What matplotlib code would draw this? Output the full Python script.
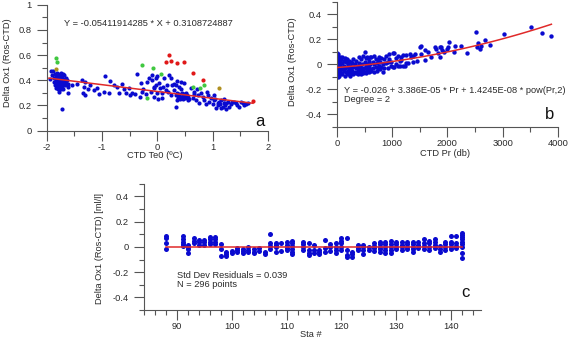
import matplotlib
matplotlib.use("Agg")
import matplotlib.pyplot as plt
import numpy as np
from matplotlib.ticker import MultipleLocator, FormatStrFormatter

plt.rcParams["font.family"] = ["Liberation Sans", "DejaVu Sans"]
plt.rcParams["axes.unicode_minus"] = False

# ---- panel a: residual vs CTD temperature ----
temp_a = [
    -1.94, -1.92, -1.90, -1.88, -1.87, -1.86, -1.85, -1.85, -1.84, -1.84,
    -1.83, -1.83, -1.82, -1.82, -1.82, -1.81, -1.81, -1.81, -1.80, -1.80,
    -1.80, -1.79, -1.79, -1.79, -1.78, -1.78, -1.78, -1.78, -1.77, -1.77,
    -1.77, -1.76, -1.76, -1.76, -1.75, -1.75, -1.75, -1.74, -1.74, -1.74,
    -1.73, -1.73, -1.73, -1.72, -1.72, -1.72, -1.71, -1.71, -1.70, -1.70,
    -1.70, -1.69, -1.69, -1.68, -1.68, -1.67, -1.66, -1.65, -1.64, -1.62,
    -1.61, -1.61, -1.55,
    -1.36, -1.33, -1.30, -1.35, -1.30, -1.21, -1.15, -1.09, -0.97, -0.94,
    -0.85, -0.88, -0.79, -0.73, -0.64, -0.70, -0.56, -0.52, -0.49, -1.45,
    -1.25, -1.05, -0.60, -0.45,
    -0.36, -0.30, -0.32, -0.18, -0.15, -0.09, -0.06, -0.09, -0.03, 0.00,
    0.03, -0.06, 0.12, 0.21, 0.24, 0.18, 0.15, 0.00, -0.06, 0.09,
    0.24, -0.25, -0.20, -0.12, -0.02, 0.05, 0.08, 0.10, 0.20, -0.40,
    -0.28, 0.02, 0.26,
    0.30, 0.36, 0.42, 0.48, 0.39, 0.33, 0.39, 0.45, 0.51, 0.55,
    0.36, 0.33, 0.35, 0.37, 0.38, 0.40, 0.41, 0.43, 0.44, 0.46,
    0.47, 0.49, 0.50, 0.52, 0.53, 0.56, 0.58, 0.42, 0.31, 0.34,
    0.61, 0.67, 0.73, 0.79, 0.70, 0.85, 0.91, 0.94, 1.03, 1.09,
    1.15, 1.18, 1.21, 1.27, 1.33, 1.39, 1.45, 1.52, 1.57, 1.64,
    1.06, 1.24, 0.64, 0.76, 0.82, 0.88, 0.97, 1.00, 1.05, 1.10,
    1.12, 1.14, 1.16, 1.20, 1.23, 1.25, 1.30, 1.35, 1.42, 1.48,
    1.55, 1.60, 0.66, 0.90, 0.72, 1.02,
]
dox_a = [
    0.41, 0.47, 0.44, 0.475, 0.42, 0.39, 0.45, 0.36, 0.43, 0.40,
    0.38, 0.34, 0.46, 0.41, 0.37, 0.44, 0.39, 0.35, 0.42, 0.38,
    0.33, 0.45, 0.40, 0.36, 0.43, 0.39, 0.35, 0.31, 0.41, 0.37,
    0.34, 0.44, 0.40, 0.36, 0.42, 0.38, 0.33, 0.46, 0.39, 0.35,
    0.41, 0.37, 0.17, 0.43, 0.39, 0.34, 0.40, 0.36, 0.45, 0.38,
    0.33, 0.41, 0.37, 0.44, 0.39, 0.36, 0.42, 0.38, 0.40, 0.35,
    0.37, 0.30, 0.36,
    0.40, 0.35, 0.39, 0.30, 0.28, 0.36, 0.32, 0.34, 0.31, 0.43,
    0.395, 0.30, 0.36, 0.35, 0.37, 0.30, 0.30, 0.34, 0.28, 0.37,
    0.33, 0.29, 0.33, 0.30,
    0.45, 0.38, 0.27, 0.39, 0.42, 0.44, 0.34, 0.40, 0.42, 0.43,
    0.38, 0.35, 0.42, 0.44, 0.42, 0.36, 0.32, 0.30, 0.27, 0.26,
    0.28, 0.33, 0.29, 0.31, 0.36, 0.34, 0.30, 0.35, 0.31, 0.29,
    0.31, 0.25, 0.36,
    0.32, 0.395, 0.39, 0.38, 0.35, 0.28, 0.27, 0.26, 0.27, 0.24,
    0.24, 0.19, 0.30, 0.28, 0.26, 0.29, 0.25, 0.27, 0.30, 0.28,
    0.25, 0.29, 0.26, 0.30, 0.28, 0.27, 0.25, 0.33, 0.37, 0.36,
    0.34, 0.31, 0.28, 0.30, 0.24, 0.24, 0.28, 0.23, 0.24, 0.22,
    0.24, 0.19, 0.22, 0.23, 0.21, 0.23, 0.20, 0.23, 0.20, 0.22,
    0.18, 0.17, 0.26, 0.22, 0.27, 0.21, 0.26, 0.21, 0.25, 0.20,
    0.23, 0.21, 0.18, 0.25, 0.20, 0.22, 0.19, 0.23, 0.22, 0.19,
    0.22, 0.21, 0.29, 0.31, 0.33, 0.28,
]
red_temp_a = [0.22, 0.16, 0.24, 0.36, 0.48, 0.64, 0.82, 1.73]
red_dox_a = [0.597, 0.548, 0.555, 0.54, 0.547, 0.46, 0.40, 0.236]
green_temp_a = [-1.84, -1.81, -0.28, -0.08, 0.06, -0.18, 0.85, 0.78, 0.65]
green_dox_a = [0.58, 0.544, 0.525, 0.495, 0.45, 0.26, 0.36, 0.342, 0.347]
olive_temp_a = [-1.83, 1.11]
olive_dox_a = [0.49, 0.335]
fit_a = [-0.05411914285, 0.3108724887]
fit_range_a = [-1.96, 1.73]

# ---- panel b: residual vs CTD pressure ----
pres_b = [
    5, 10, 8, 12, 5, 15, 8, 20, 10, 5, 15, 25, 30, 35, 25, 40, 30, 45,
    50, 55, 60, 20, 40, 50, 3, 18, 28, 6, 60, 35,
    80, 80, 80, 100, 100, 100, 100, 120, 120, 120, 140, 140, 140,
    160, 160, 180, 180, 180, 200, 200, 200, 220, 220, 240, 240, 240,
    260, 260, 260, 280, 280, 300, 300, 300, 320, 320, 350, 350, 350,
    380, 380, 380, 400, 400, 400, 420, 420, 440, 440, 440, 460, 460,
    480, 480, 480, 500, 500, 500, 500, 520, 520, 520, 540, 540, 540,
    560, 560, 580, 580, 580, 600, 600, 600, 620, 620, 650, 650,
    680, 680, 680, 700, 700, 720, 720, 740, 740, 760, 760, 780, 780,
    800, 800, 830, 830, 860, 860, 890, 890, 920, 920, 950, 950,
    980, 980, 1010, 1010, 1040, 1040, 1070, 1070, 1100, 1100,
    1140, 1140, 1165, 1165, 1200, 1200, 1230, 1255, 1255, 1290,
    1320, 1345, 1380, 1380, 1405, 1450, 1495, 1525, 1525, 1586,
    1600, 1646, 1706, 1768, 1797, 1828, 1857, 1860, 1890, 1908,
    1936, 1991, 2009, 2022, 2112, 2130, 2239, 2360, 2510, 2534,
    2552, 2583, 2613, 2673, 2776, 3017, 3518, 3717, 3880,
]
dox_b = [
    0.09, 0.07, 0.05, 0.03, 0.01, -0.01, -0.03, -0.05, -0.07, -0.09,
    -0.10, 0.08, 0.05, 0.02, -0.02, -0.04, -0.06, -0.08, 0.06, 0.0,
    -0.03, 0.04, 0.01, -0.06, 0.0, -0.08, 0.0, -0.05, 0.03, -0.09,
    0.04, -0.02, -0.07, 0.06, 0.01, -0.04, -0.08, 0.03, -0.01, -0.05,
    0.05, -0.03, -0.09, 0.02, -0.06, 0.04, -0.02, -0.07, 0.0, -0.05,
    -0.08, 0.03, -0.03, -0.01, -0.06, -0.09, 0.02, -0.04, -0.07, 0.01,
    -0.05, -0.02, -0.08, 0.04, 0.0, -0.06, 0.03, -0.03, -0.07, -0.01,
    -0.05, -0.08, 0.06, 0.01, -0.04, -0.02, -0.06, 0.04, -0.045, -0.08,
    0.0, -0.03, 0.07, -0.05, -0.07, 0.095, 0.02, -0.03, -0.06, 0.05,
    -0.01, -0.07, 0.06, 0.0, -0.04, 0.05, -0.05, 0.03, -0.02, -0.06,
    0.06, 0.0, -0.04, 0.06, -0.05, 0.02, -0.03, 0.07, 0.0, -0.06,
    0.04, -0.02, 0.01, -0.05, 0.035, -0.03, 0.06, -0.01, 0.02, -0.04,
    0.05, -0.02, 0.0, -0.06, 0.04, -0.03, 0.07, 0.01, -0.03, 0.02,
    0.08, 0.04, 0.02, -0.01, 0.09, -0.02, 0.09, -0.02, 0.05, 0.0,
    0.07, -0.015, 0.03, -0.01, 0.056, 0.034, 0.075, -0.01, -0.01, 0.075,
    0.01, 0.01, 0.08, 0.06, 0.066, 0.02, 0.083, 0.03, 0.136, 0.083,
    0.146, 0.035, 0.114, 0.10, 0.06, 0.136, 0.123, 0.088, 0.056, 0.136,
    0.141, 0.114, 0.10, 0.122, 0.141, 0.176, 0.096, 0.146, 0.146, 0.088,
    0.258, 0.141, 0.173, 0.122, 0.146, 0.194, 0.157, 0.242, 0.296, 0.253,
    0.229,
]
fit_b = [-0.026, 3.386e-05, 1.4245e-08]
fit_range_b = [0, 3880]

# ---- panel c: residual after fit vs station ----
sta_c = [88, 91, 92, 93, 94, 95, 96, 97, 98, 99, 100, 101, 102, 103, 104,
         105, 106, 107, 108, 109, 110, 111, 113, 114, 115, 116, 117, 118,
         119, 120, 121, 122, 123, 124, 125, 126, 127, 128, 129, 130, 131,
         132, 133, 134, 135, 136, 137, 138, 139, 140, 141, 142]
res_c = [
    [0.087, 0.074, 0.034, -0.016],
    [0.087, 0.06, 0.042, 0.024, 0.008],
    [0.016, -0.003, -0.018, -0.05],
    [0.068, 0.05, 0.03],
    [0.055, 0.037, 0.016],
    [0.055, 0.042, 0.016],
    [0.08, 0.06, 0.042, 0.024],
    [0.08, 0.06, 0.042, 0.024],
    [0.024, -0.018, -0.07],
    [-0.037, -0.055, -0.07],
    [-0.03, -0.05],
    [-0.01, -0.024, -0.037],
    [-0.016, -0.03, -0.045],
    [-0.003, -0.024, -0.042],
    [-0.016, -0.037, -0.05],
    [-0.01, -0.03],
    [-0.037, -0.055],
    [0.103, 0.03, 0.008, -0.018],
    [0.034, 0.016, -0.003, -0.037],
    [0.034, -0.03],
    [0.042, 0.016, -0.01, -0.024],
    [0.05, 0.03, 0.008, -0.016, -0.037, -0.055],
    [0.042, 0.024, 0.003, -0.024],
    [0.034, -0.024, -0.045, -0.063],
    [0.016, -0.024, -0.05],
    [-0.024, -0.042, -0.058],
    [0.055, -0.01, -0.037],
    [0.024, 0.003, -0.03],
    [0.03, -0.003, -0.024, -0.045],
    [0.068, 0.05, 0.034, 0.003, -0.024],
    [0.068, -0.024, -0.063, -0.08],
    [-0.037, -0.055, -0.08],
    [0.016, -0.01, -0.024],
    [0.016, -0.003, -0.024, -0.055],
    [-0.003, -0.024],
    [0.03, 0.008, -0.01, -0.03],
    [0.042, 0.024, 0.003, -0.018, -0.037],
    [0.042, 0.024, 0.003, -0.024, -0.05],
    [0.05, 0.024, -0.003, -0.024, -0.045],
    [0.042, 0.024, 0.003, -0.018],
    [0.042, 0.016, -0.003, -0.024],
    [0.042, 0.024, 0.003, -0.018],
    [0.042, 0.024, 0.003, -0.018, -0.037],
    [0.042, 0.016, -0.01],
    [0.061, 0.034, 0.008, -0.018],
    [0.05, 0.03, 0.003, -0.024],
    [0.061, 0.042, 0.016, -0.01],
    [0.008, -0.018, -0.037],
    [0.042, 0.024, -0.003, -0.024],
    [0.087, 0.042, 0.024, 0.003, -0.018],
    [0.087, 0.034, 0.008, -0.01],
    [0.113, 0.095, 0.082, 0.061, 0.042, 0.024, -0.003, -0.05, -0.09],
]
fit_range_c = [88, 142]

BLUE = "#0a0acf"
RED = "#e02a2a"
TXT = "#2a2a2a"
FS = 6.7


def style_axes(ax, xlim, ylim, xmaj, xmin, ymaj, ymin):
    ax.set_xlim(*xlim)
    ax.set_ylim(*ylim)
    for side in ("top", "right"):
        ax.spines[side].set_visible(False)
    for side in ("left", "bottom"):
        ax.spines[side].set_color("#555555")
        ax.spines[side].set_linewidth(0.8)
    ax.xaxis.set_major_locator(MultipleLocator(xmaj))
    ax.xaxis.set_minor_locator(MultipleLocator(xmin))
    ax.yaxis.set_major_locator(MultipleLocator(ymaj))
    ax.yaxis.set_minor_locator(MultipleLocator(ymin))
    ax.xaxis.set_major_formatter(FormatStrFormatter("%g"))
    ax.yaxis.set_major_formatter(FormatStrFormatter("%g"))
    ax.tick_params(which="major", length=7, width=0.8, color="#555555",
                   labelsize=FS, labelcolor=TXT)
    ax.tick_params(which="minor", length=3.5, width=0.8, color="#555555")
    ax.tick_params(axis="x", which="major", pad=2)
    ax.tick_params(axis="y", which="major", pad=4)


fig = plt.figure(figsize=(5.7, 3.41), dpi=100)

# panel a
ax_a = fig.add_axes([0.082, 0.617, 0.388, 0.369])
ax_a.scatter(temp_a, dox_a, s=9, color=BLUE, linewidths=0, zorder=2)
ax_a.scatter(green_temp_a, green_dox_a, s=9, color="#40c840", linewidths=0, zorder=2)
ax_a.scatter(red_temp_a, red_dox_a, s=9, color="#e01818", linewidths=0, zorder=2)
ax_a.scatter(olive_temp_a, olive_dox_a, s=9, color="#b09020", linewidths=0, zorder=2)
xa = np.array(fit_range_a)
ax_a.plot(xa, fit_a[0] * xa + fit_a[1], color=RED, lw=1.1, zorder=3)
style_axes(ax_a, (-2, 2), (0, 1), 1, 0.5, 0.2, 0.1)
ax_a.text(-1.69, 0.85, "Y = -0.05411914285 * X + 0.3108724887",
          fontsize=FS, color=TXT, va="center")
ax_a.text(1.85, 0.07, "a", fontsize=12, color="#111111", ha="center", va="center")
ax_a.set_xlabel("CTD Te0 (ºC)", fontsize=FS, color=TXT)
ax_a.set_ylabel("Delta Ox1 (Ros-CTD)", fontsize=FS, color=TXT)
ax_a.xaxis.set_label_coords(0.49, -0.16)
ax_a.yaxis.set_label_coords(-0.155, 0.54)

# panel b
ax_b = fig.add_axes([0.591, 0.628, 0.388, 0.367])
ax_b.scatter(pres_b, dox_b, s=10, color=BLUE, linewidths=0, zorder=2)
xb = np.linspace(fit_range_b[0], fit_range_b[1], 100)
ax_b.plot(xb, fit_b[0] + fit_b[1] * xb + fit_b[2] * xb ** 2, color=RED, lw=1.1, zorder=3)
style_axes(ax_b, (0, 4000), (-0.5, 0.5), 1000, 500, 0.2, 0.1)
ax_b.text(127, -0.206, "Y = -0.026 + 3.386E-05 * Pr + 1.4245E-08 * pow(Pr,2)",
          fontsize=FS, color=TXT, va="center")
ax_b.text(127, -0.278, "Degree = 2", fontsize=FS, color=TXT, va="center")
ax_b.text(3850, -0.405, "b", fontsize=12, color="#111111", ha="center", va="center")
ax_b.set_xlabel("CTD Pr (db)", fontsize=FS, color=TXT)
ax_b.set_ylabel("Delta Ox1 (Ros-CTD)", fontsize=FS, color=TXT)
ax_b.xaxis.set_label_coords(0.487, -0.18)
ax_b.yaxis.set_label_coords(-0.18, 0.52)

# panel c
ax_c = fig.add_axes([0.253, 0.091, 0.591, 0.37])
xs = np.concatenate([[s] * len(r) for s, r in zip(sta_c, res_c)])
ys = np.concatenate(res_c)
ax_c.scatter(xs, ys, s=13, color=BLUE, linewidths=0, zorder=2)
ax_c.plot(fit_range_c, [0, 0], color=RED, lw=1.1, zorder=3)
style_axes(ax_c, (84, 145.5), (-0.5, 0.5), 10, 2, 0.2, 0.1)
ax_c.text(90, -0.229, "Std Dev Residuals = 0.039", fontsize=FS, color=TXT, va="center")
ax_c.text(90, -0.30, "N = 296 points", fontsize=FS, color=TXT, va="center")
ax_c.text(142.6, -0.365, "c", fontsize=12, color="#111111", ha="center", va="center")
ax_c.set_xlabel("Sta #", fontsize=FS, color=TXT)
ax_c.set_ylabel("Delta Ox1 (Ros-CTD) [ml/l]", fontsize=FS, color=TXT)
ax_c.xaxis.set_label_coords(0.496, -0.16)
ax_c.yaxis.set_label_coords(-0.12, 0.49)

fig.savefig("out.png", dpi=100)
